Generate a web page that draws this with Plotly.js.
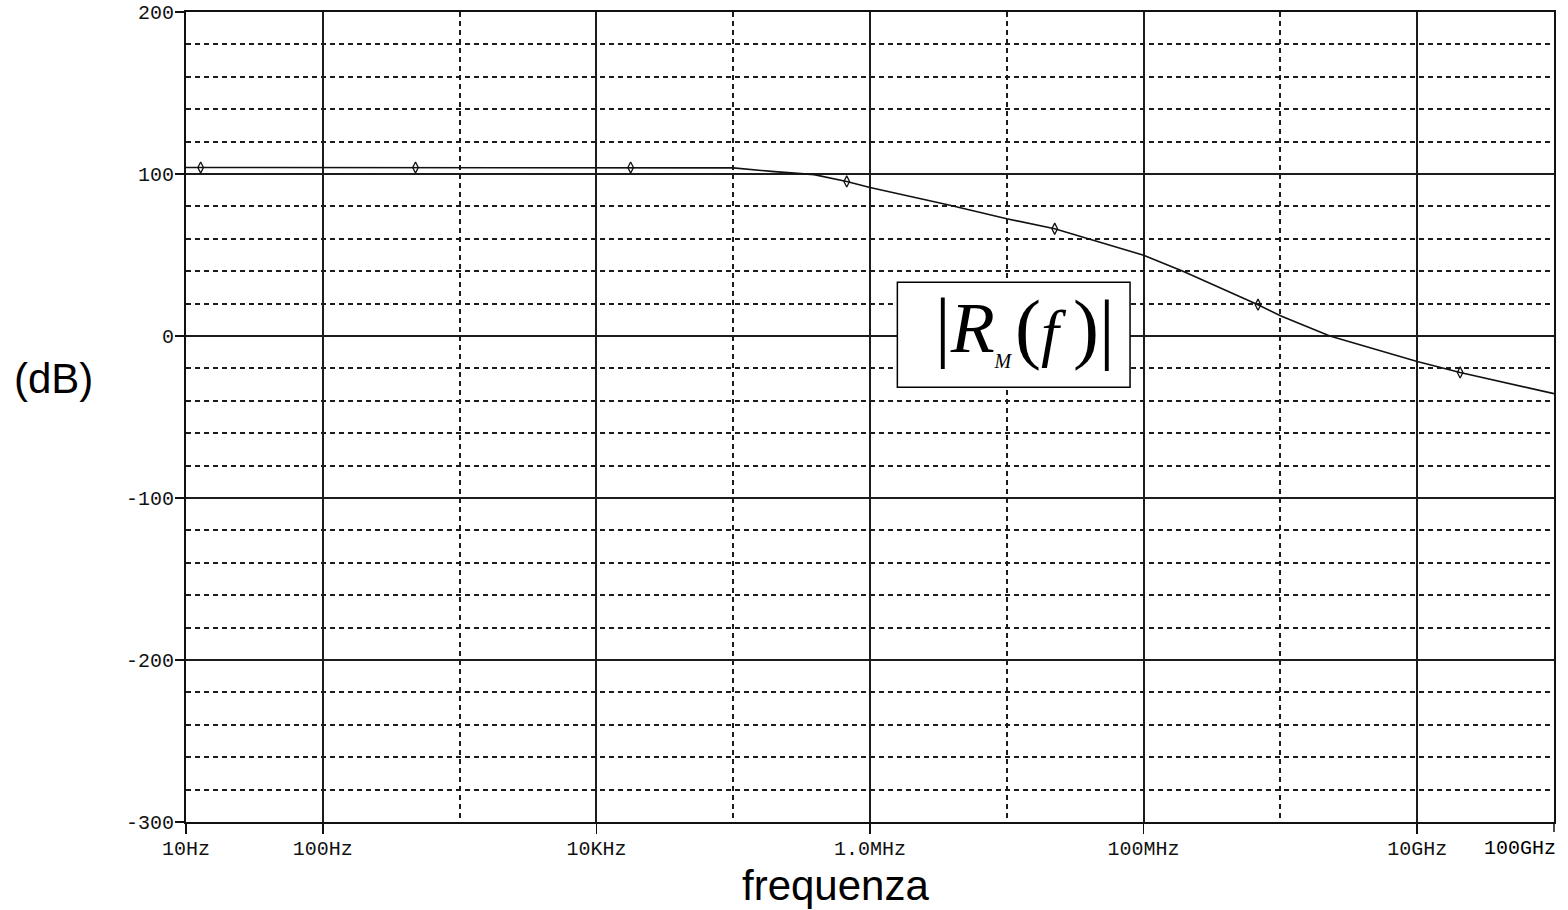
<!DOCTYPE html>
<html>
<head>
<meta charset="utf-8">
<script src="https://cdn.plot.ly/plotly-3.0.1.min.js"></script>
<style>
  html, body { margin: 0; padding: 0; background: #ffffff; }
  #chart { width: 1568px; height: 910px; }
</style>
</head>
<body>
<div id="chart"></div>
<script>
// Transimpedance magnitude |R_M(f)| in dB versus frequency (log scale)
const freqHz = [10, 100, 1e3, 1e4, 1e5, 1.9e5, 2.7e5, 3.9e5, 6.76e5, 1e6, 3.7e6, 1e7,
                2.24e7, 1e8, 1.94e8, 6.86e8, 1e9, 2.3e9, 1e10, 2.06e10, 1e11];
const magDb  = [104, 104, 104, 104, 103.8, 101.6, 100.5, 99.6, 95.4, 91.7, 81.0, 72.4,
                66.2, 49.9, 39.9, 19.3, 12.5, 0, -15.7, -22.5, -35.6];

// Sample markers placed along the trace
const markerHz = [12.8, 476, 1.78e4, 6.76e5, 2.24e7, 6.86e8, 2.06e10];
const markerDb = [104, 104, 104, 95.4, 66.2, 19.3, -22.5];

// Axis ticks; the last decade sits on the right frame edge, so its label is
// drawn separately and right-aligned to the frame.
const xTickVals  = [10, 100, 1e4, 1e6, 1e8, 1e10];
const xTickText  = ['10Hz', '100Hz', '10KHz', '1.0MHz', '100MHz', '10GHz'];
const xEdgeLabel = '100GHz';
const xMinorVals = [1e3, 1e5, 1e7, 1e9];
const yTickVals  = [-300, -200, -100, 0, 100, 200];
const yTickText  = ['-300', '-200', '-100', '0', '100', '200'];

const ink = '#111111';
const gridInk = '#1c1c1c';
const monoFamily = 'Liberation Mono, Courier New, monospace';
const tickFont = { family: monoFamily, size: 20, color: ink };
const serif = 'Liberation Serif, Times New Roman, serif';
const sans = 'Liberation Sans, Arial, sans-serif';

const traces = [
  {
    x: freqHz, y: magDb, type: 'scatter', mode: 'lines',
    line: { color: ink, width: 1.6 }, hoverinfo: 'skip'
  },
  {
    x: markerHz, y: markerDb, type: 'scatter', mode: 'markers',
    marker: { symbol: 'diamond-tall-open', size: 8, color: ink, line: { width: 1.3, color: ink } },
    hoverinfo: 'skip'
  }
];

function label(text, x, y, size, family, xanchor) {
  return {
    xref: 'paper', yref: 'paper', x: x, y: y, text: text, showarrow: false,
    xanchor: xanchor || 'center', yanchor: 'middle', borderpad: 0,
    font: { family: family, size: size, color: '#000000' }
  };
}

// |R_M(f)| set in three pieces so the delimiters can be spaced like a formula;
// the subscript is lowered with baseline-shift
const big = s => '<span style="font-size:78px">' + s + '</span>';
const mathLeft  = big('|') + '<i>R</i>' +
  '<span style="font-size:20px;baseline-shift:-16px"><i>M</i></span>';
const mathMid   = big('(') + '<span style="font-size:64px"><i>f</i></span>';
const mathRight = big(')') + big('|');
const mathY = 0.6105;

const layout = {
  width: 1568, height: 910,
  margin: { l: 186, r: 14, t: 12, b: 88 },
  paper_bgcolor: '#ffffff', plot_bgcolor: '#ffffff',
  showlegend: false,
  xaxis: {
    type: 'log', range: [1, 11],
    tickmode: 'array', tickvals: xTickVals, ticktext: xTickText,
    ticks: 'outside', ticklen: 10, tickwidth: 1.5, tickcolor: ink,
    ticklabelstandoff: -3,
    tickfont: tickFont,
    showgrid: true, gridcolor: gridInk, gridwidth: 2,
    minor: { tickmode: 'array', tickvals: xMinorVals, showgrid: true, gridcolor: gridInk,
             gridwidth: 2, griddash: '5px,4px', ticks: '' },
    showline: true, linecolor: ink, linewidth: 2, mirror: true,
    zeroline: false
  },
  yaxis: {
    range: [-300, 200],
    tickmode: 'array', tickvals: yTickVals, ticktext: yTickText,
    ticks: 'outside', ticklen: 9, tickwidth: 1.5, tickcolor: ink,
    ticklabelstandoff: -3,
    tickfont: tickFont,
    showgrid: true, gridcolor: gridInk, gridwidth: 2,
    minor: { dtick: 20, showgrid: true, gridcolor: gridInk, gridwidth: 2,
             griddash: '5px,4px', ticks: '' },
    showline: true, linecolor: ink, linewidth: 2, mirror: true,
    zeroline: false
  },
  shapes: [
    // tick mark for the right-edge decade
    { type: 'line', xref: 'paper', x0: 1, x1: 1, yref: 'paper', ysizemode: 'pixel',
      yanchor: 0, y0: 0, y1: -10, line: { color: ink, width: 1.5 } },
    // white label box
    { type: 'rect', xref: 'paper', yref: 'paper', x0: 0.5200, x1: 0.6901, y0: 0.5367, y1: 0.6663,
      fillcolor: '#ffffff', line: { color: '#000000', width: 1.5 }, layer: 'above' }
  ],
  annotations: [
    label(xEdgeLabel, 1.0022, -0.0321, 20, monoFamily, 'right'),
    label('(dB)', -0.0965, 0.5474, 42, sans),
    label('frequenza', 0.4748, -0.0778, 42, sans),
    label(mathLeft, 0.5760, mathY, 72, serif),
    label(mathMid, 0.6253, mathY, 72, serif),
    label(mathRight, 0.6636, mathY, 72, serif)
  ]
};

Plotly.newPlot('chart', traces, layout, { staticPlot: true, displayModeBar: false });
</script>
</body>
</html>
